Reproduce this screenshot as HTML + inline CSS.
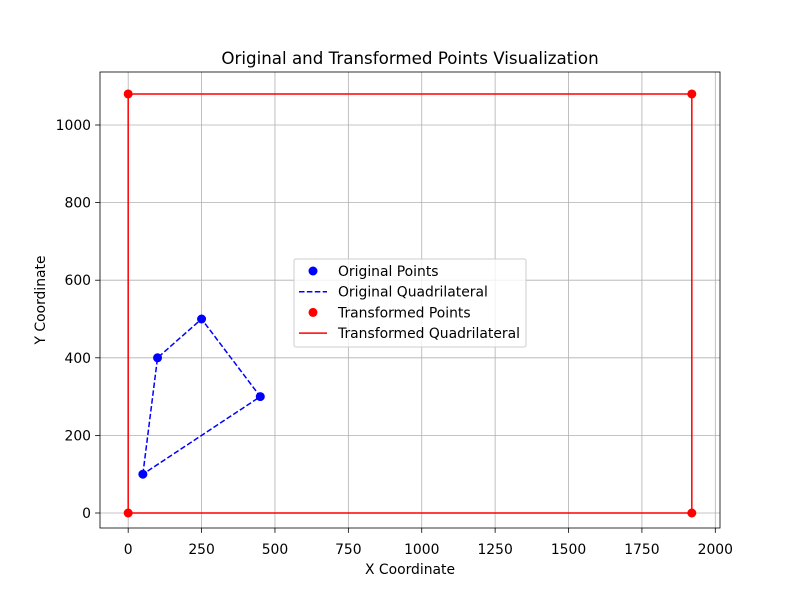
<!DOCTYPE html>
<html><head><meta charset="utf-8"><style>body{margin:0;background:#fff}svg{display:block;font-family:"DejaVu Sans","Liberation Sans",sans-serif}</style></head>
<body>
<svg id="chart" width="800" height="600"></svg>
<script>
const origX=[50,100,250,450];
const origY=[100,400,500,300];
const transX=[0,0,1920,1920];
const transY=[0,1080,1080,0];
const xTicks=[0,250,500,750,1000,1250,1500,1750,2000];
const yTicks=[0,200,400,600,800,1000];
const L=100,R=720,T=72,B=528;
const xmin=-96,xmax=2016,ymin=-38.66,ymax=1136.6;
const sx=v=>L+(v-xmin)/(xmax-xmin)*(R-L);
const sy=v=>B-(v-ymin)/(ymax-ymin)*(B-T);
const svg=document.getElementById('chart');
const NS='http://www.w3.org/2000/svg';
function mk(tag,attrs,name,parent){const e=document.createElementNS(NS,tag);for(const k in attrs)e.setAttribute(k,attrs[k]);


(parent||svg).appendChild(e);return e;}
function txt(x,y,s,name,anchor,size,extra){const e=mk('text',Object.assign({x:x,y:y,'text-anchor':anchor||'middle','font-size':size||13.9,fill:'#000'},extra||{}),name);e.textContent=s;return e;}
mk('rect',{x:0,y:0,width:800,height:600,fill:'#fff'},'background');
const grid=mk('g',{},'grid');
xTicks.forEach(t=>{mk('line',{x1:sx(t),x2:sx(t),y1:T,y2:B,stroke:'#b0b0b0','stroke-width':0.8},'x-grid-line',grid);
mk('line',{x1:sx(t),x2:sx(t),y1:B,y2:B+4.9,stroke:'#000','stroke-width':0.8},'x-tick');
txt(sx(t),B+26,String(t),'x-tick-label');});
yTicks.forEach(t=>{mk('line',{x1:L-4.9,x2:L,y1:sy(t),y2:sy(t),stroke:'#000','stroke-width':0.8},'y-tick');
mk('line',{x1:L,x2:R,y1:sy(t),y2:sy(t),stroke:'#b0b0b0','stroke-width':0.8},'y-grid-line',grid);
txt(L-9,sy(t)+5,String(t),'y-tick-label','end');});
const poly=(xs,ys)=>xs.concat([xs[0]]).map((x,i)=>sx(x)+','+sy(ys.concat([ys[0]])[i])).join(' ');
mk('polyline',{points:poly(origX,origY),fill:'none',stroke:'#0000ff','stroke-width':1.5,'stroke-dasharray':'5.5,2.4'},'original-quadrilateral');
origX.forEach((x,i)=>mk('circle',{cx:sx(x),cy:sy(origY[i]),r:4.5,fill:'#0000ff'},'original-point'));
mk('polyline',{points:poly(transX,transY),fill:'none',stroke:'#ff0000','stroke-width':1.5},'transformed-quadrilateral');
transX.forEach((x,i)=>mk('circle',{cx:sx(x),cy:sy(transY[i]),r:4.5,fill:'#ff0000'},'transformed-point'));
mk('rect',{x:L,y:T,width:R-L,height:B-T,fill:'none',stroke:'#000','stroke-width':0.8},'axes-frame');
txt(410,64,'Original and Transformed Points Visualization','chart-title','middle',16.7);
txt(410,574,'X Coordinate','x-axis-title');
txt(45,300,'Y Coordinate','y-axis-title','middle',13.9,{transform:'rotate(-90 45 300)'});
const lg=mk('g',{},'legend');
mk('rect',{x:294,y:259,width:232,height:88,rx:2,fill:'#fff','fill-opacity':0.8,stroke:'#ccc'},'legend-box',lg);
const items=[['Original Points','dot','#0000ff'],['Original Quadrilateral','dash','#0000ff'],['Transformed Points','dot','#ff0000'],['Transformed Quadrilateral','line','#ff0000']];
items.forEach((it,i)=>{const y=271+i*20.7;
if(it[1]=='dot')mk('circle',{cx:313,cy:y,r:4.5,fill:it[2]},'legend-marker',lg);
else mk('line',{x1:299,x2:327,y1:y,y2:y,stroke:it[2],'stroke-width':1.5,'stroke-dasharray':it[1]=='dash'?'5.5,2.4':'none'},'legend-line',lg);
txt(338,y+5,it[0],'legend-entry','start');});
</script>
</body></html>
